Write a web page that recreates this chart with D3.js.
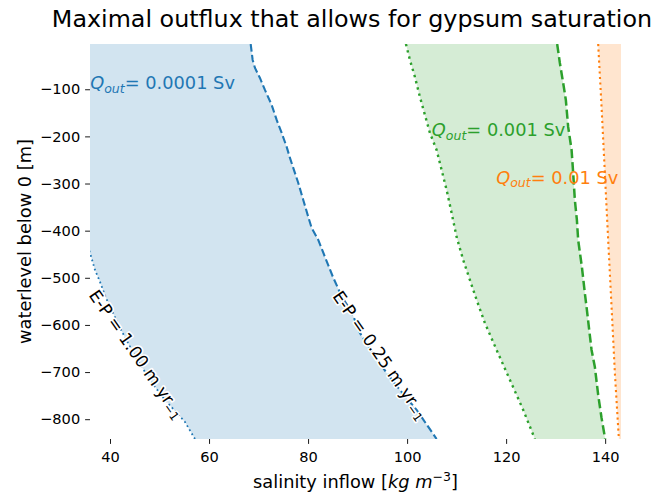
<!DOCTYPE html>
<html><head><meta charset="utf-8">
<script src="https://cdn.jsdelivr.net/npm/d3@7/dist/d3.min.js"></script>
<style>body{margin:0;background:#fff} text{font-family:"DejaVu Sans",sans-serif}</style>
</head><body>
<svg id="c" width="659" height="496"></svg>
<script>
// ---- data ----
const xTicks = [40, 60, 80, 100, 120, 140];
const yTicks = [-100, -200, -300, -400, -500, -600, -700, -800];
const xDomain = [35.96, 143.2];
const yDomain = [-842, -4];

// Q_out = 0.0001 Sv, E-P = 0.25 m/yr (dashed)
const salQ1_025 = [68.41,68.81,69.28,70.28,71.29,72.65,73.66,74.67,75.68,76.34,77.01,78.02,79.03,80.04,80.72,82.06,83.41,85.02,86.84,88.80,90.48,93.10,95.87,98.55,101.92,104.0,105.96];
const lvlQ1_025 = [-4,-37.8,-54.8,-76,-101.5,-133.3,-165.1,-192.7,-222.4,-245.7,-266.9,-298.8,-334.8,-370.9,-394.2,-419.7,-455.7,-498.1,-540.6,-572.4,-617,-659.4,-701.8,-737.9,-780.3,-812.1,-842];
// Q_out = 0.0001 Sv, E-P = 1.00 m/yr (dotted)
const salQ1_100 = [27,29,32,34.5,35.96,36.97,37.98,39.19,40.61,42.02,43.63,45.25,47.07,49.09,51.10,53.12,55.14,57.16];
const lvlQ1_100 = [-4,-150,-300,-400,-447.3,-483.3,-508.8,-542.7,-574.5,-606.3,-638.2,-670,-699.7,-731.5,-759.1,-782.4,-805.8,-842];
// Q_out = 0.001 Sv, E-P = 0.25 (dashed)
const salQ2_025 = [130.31,130.85,131.52,132.06,132.53,133.22,133.54,133.88,134.29,134.55,135.30,135.94,136.31,137.25,137.92,138.59,139.27,140.0];
const lvlQ2_025 = [-4,-44.1,-86.6,-122.7,-180,-228.8,-277.6,-334.8,-377.3,-419.7,-476.9,-536.3,-568.1,-653,-689.1,-748.5,-797.2,-842];
// Q_out = 0.001 Sv, E-P = 1.00 (dotted)
const salQ2_100 = [99.76,100.57,101.58,102.59,103.60,104.61,105.96,106.97,107.98,108.99,110.0,111.33,112.68,114.04,115.71,118.07,120.77,123.45,125.81];
const lvlQ2_100 = [-4,-37.8,-73.9,-116.3,-154.5,-192.7,-228.8,-271.2,-313.6,-362.4,-413.3,-462.1,-504.5,-546.9,-595.8,-653,-716.7,-780.3,-842];
// Q_out = 0.01 Sv, E-P = 1.00 (dotted)
const salQ3_100 = [138.59,139.27,139.94,140.61,141.29,141.96,142.77];
const lvlQ3_100 = [-4,-137.5,-277.6,-419.7,-561.8,-701.8,-842];

const qLabels = ["0.0001", "0.001", "0.01"];
const qLabelPos = [[36, -100], [105, -200], [118, -300]];
const epLabels = ["1.00", "0.25"];
const epLabelPos = [[45.4, -662], [94.6, -664]];

// ---- layout ----
const L = 90, R = 621, T = 44, B = 439;
const C0 = "#1f77b4", C1 = "#ff7f0e", C2 = "#2ca02c";
const svg = d3.select("#c");
const x = d3.scaleLinear().domain(xDomain).range([L, R]);
const y = d3.scaleLinear().domain(yDomain).range([B, T]);
const pts = (s, l) => s.map((v, i) => [x(v), y(l[i])]);

svg.append("defs").append("clipPath").attr("id", "clip")
  .append("rect").attr("x", L).attr("y", T).attr("width", R - L).attr("height", B - T);
const g = svg.append("g").attr("clip-path", "url(#clip)");
const line = d3.line();

function fillBetween(a, b, color) {
  g.append("path").attr("d", line(a.concat(b.slice().reverse())) + "Z")
    .attr("fill", color).attr("fill-opacity", 0.2).attr("stroke", "none");
}
const p1a = pts(salQ1_025, lvlQ1_025), p1b = pts(salQ1_100, lvlQ1_100);
const p2a = pts(salQ2_025, lvlQ2_025), p2b = pts(salQ2_100, lvlQ2_100);
const p3b = pts(salQ3_100, lvlQ3_100);
fillBetween(p1b, p1a, C0);
fillBetween(p2b, p2a, C2);
const xr = x.range()[1] + 5;
fillBetween(p3b, [[xr, y(yDomain[1])], [xr, y(yDomain[0])]], C1);

function curve(p, color, w, dash) {
  g.append("path").attr("d", line(p)).attr("fill", "none").attr("stroke", color)
    .attr("stroke-width", w).attr("stroke-dasharray", dash);
}
curve(p1a, C0, 2.1, "7.6,3.3");
curve(p1b, C0, 1.8, "1.8,2.9");
curve(p2a, C2, 2.5, "9.25,4");
curve(p2b, C2, 2.4, "2.4,4");
curve(p3b, C1, 2.1, "2.1,3.4");

// contour labels
epLabels.forEach((lab, i) => {
  const [cx, cy] = [x(epLabelPos[i][0]), y(epLabelPos[i][1])];
  const t = svg.append("text").attr("transform", `translate(${cx},${cy}) rotate(55)`)
    .attr("text-anchor", "middle").attr("dy", "0.35em").attr("font-size", 17)
    .attr("fill", "#000").attr("stroke", "#fff").attr("stroke-width", 3.2)
    .attr("paint-order", "stroke").attr("stroke-linejoin", "round");
  t.append("tspan").text(`E-P = ${lab} m yr`);
  t.append("tspan").attr("font-size", 11.9).attr("dy", 3.2).text("\u22121");
});

// Q labels
const qCol = [C0, C2, C1];
qLabels.forEach((lab, i) => {
  const t = svg.append("text").attr("x", x(qLabelPos[i][0])).attr("y", y(qLabelPos[i][1]))
    .attr("font-size", 17.8).attr("fill", qCol[i]);
  t.append("tspan").attr("font-style", "italic").text("Q");
  t.append("tspan").attr("font-style", "italic").attr("font-size", 12.5).attr("dy", 3.3).text("out");
  t.append("tspan").attr("dy", -3.3).text(`= ${lab} Sv`);
});

// axes
const xa = svg.append("g").attr("transform", `translate(0,${B})`)
  .call(d3.axisBottom(x).tickValues(xTicks).tickSize(4.9).tickPadding(4.9).tickFormat(d3.format("d")));
const ya = svg.append("g").attr("transform", `translate(${L},0)`)
  .call(d3.axisLeft(y).tickValues(yTicks).tickSize(4.9).tickPadding(4.9).tickFormat(d3.format("d")));
[xa, ya].forEach(a => {
  a.select(".domain").remove();
  a.selectAll("text").attr("font-size", 14.6).attr("fill", "#000").attr("font-family", "DejaVu Sans");
  a.selectAll("line").attr("stroke", "#000").attr("stroke-width", 0.9);
});
xa.selectAll("text").attr("dy", "0.92em");

// axis labels
const xl = svg.append("text").attr("x", (L + R) / 2).attr("y", 488).attr("text-anchor", "middle")
  .attr("font-size", 17.8).attr("fill", "#000");
xl.append("tspan").text("salinity inflow [");
xl.append("tspan").attr("font-style", "italic").text("kg m");
xl.append("tspan").attr("font-size", 12.5).attr("dy", -7).text("\u22123");
xl.append("tspan").attr("dy", 7).text("]");

svg.append("text").attr("transform", `translate(30.5,${(T + B) / 2}) rotate(-90)`)
  .attr("text-anchor", "middle").attr("font-size", 17.8).attr("fill", "#000")
  .text("waterlevel below 0 [m]");

svg.append("text").attr("x", 352).attr("y", 27).attr("text-anchor", "middle")
  .attr("font-size", 23.8).attr("fill", "#000")
  .text("Maximal outflux that allows for gypsum saturation");
</script>
</body></html>
